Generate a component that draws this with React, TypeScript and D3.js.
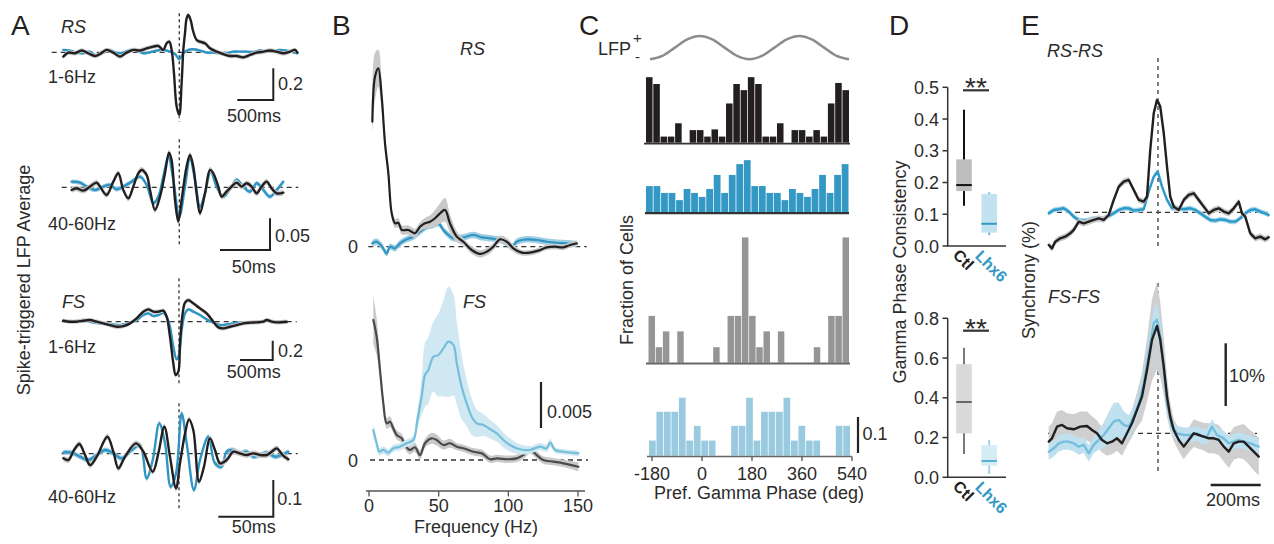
import React from 'react';
import * as d3 from 'd3';

type P = [number, number];

// ---------------- Panel A : spike-triggered LFP averages (time ms, LFP units)
const a1Ctl: P[] = [[-1611,-0.027],[-1542,-0.002],[-1449,-0.006],[-1357,0.011],[-1264,-0.006],[-1171,-0.023],[-1102,-0.011],[-1009,0.015],[-917,-0.002],[-824,-0.027],[-732,-0.002],[-639,0.015],[-546,0.011],[-454,0.025],[-361,0.036],[-292,0.040],[-222,0.015],[-176,0.057],[-139,0.067],[-106,0.015],[-74,-0.132],[-37,-0.342],[0,-0.395],[32,-0.195],[56,0.015],[79,0.120],[102,0.214],[125,0.235],[157,0.204],[194,0.130],[241,0.078],[287,0.067],[356,0.057],[426,0.025],[518,0.004],[611,-0.011],[704,-0.023],[796,-0.023],[889,-0.032],[982,-0.017],[1074,-0.002],[1167,0.004],[1259,0.011],[1352,0.004],[1445,-0.006],[1537,0.004],[1607,0.015],[1639,-0.002]];
const a1Lhx6: P[] = [[-1611,0.015],[-1519,0.011],[-1426,-0.002],[-1333,-0.006],[-1241,0.004],[-1148,-0.023],[-1056,-0.002],[-963,0.015],[-870,-0.006],[-778,-0.002],[-685,0.015],[-593,0.011],[-500,-0.006],[-407,0],[-315,0.011],[-222,0.015],[-130,0.004],[-60,-0.011],[0,-0.044],[56,-0.006],[125,0.015],[194,0.019],[287,0.011],[380,-0.002],[472,-0.002],[565,-0.006],[657,-0.006],[750,0.004],[843,0.004],[935,0.004],[1028,0.002],[1120,0.011],[1213,0.004],[1306,0.011],[1398,0.015],[1491,0.011],[1583,0],[1639,-0.006]];
const a2Ctl: P[] = [[-107.7,-0.0042],[-102.7,-0.0016],[-96,-0.0053],[-89.3,0.0011],[-82.7,0.0074],[-79.3,0.0011],[-72.7,-0.0121],[-66,0.0089],[-61,0.0221],[-56,-0.0042],[-51,-0.0174],[-46,0.0011],[-41,0.0221],[-37.7,0.0274],[-32.7,0.0195],[-29.3,-0.0042],[-24.3,-0.0358],[-19.3,-0.0147],[-14.3,0.0221],[-10.3,0.0547],[-7.7,0.0431],[-4.3,-0.02],[-1,-0.0542],[2.3,-0.02],[7.3,0.0326],[10.7,0.051],[14,0.0326],[17.3,-0.0095],[20.7,-0.041],[25.7,-0.0095],[30.7,0.0274],[34,0.0221],[39,0.0011],[42.3,-0.0147],[47.3,-0.0068],[52.3,0.0011],[57.3,0.0074],[62.3,0.0011],[67.3,0.0063],[72.3,0.0011],[77.3,-0.0095],[82.3,0.0011],[87.3,0.0089],[92.3,-0.0016],[97.3,-0.0095],[104,-0.0084]];
const a2Lhx6: P[] = [[-107.7,0.0089],[-99.3,0.0074],[-92.7,0.0011],[-84.3,-0.0042],[-76,0.0011],[-69.3,0.0037],[-62.7,-0.0032],[-56,0.0011],[-47.7,0.0089],[-39.3,0.0168],[-32.7,0.0037],[-26,-0.0252],[-21,-0.0147],[-16,0.0168],[-11,0.0484],[-6,0.0116],[0,-0.0463],[5.7,0.0011],[10.7,0.0458],[15.7,0.0116],[20.7,-0.0305],[25.7,-0.0095],[31.3,0.0247],[37.3,0.0011],[44,-0.0147],[50.7,-0.0032],[57.3,0.0116],[64,0.0011],[70.7,-0.0068],[77.3,0.0063],[84,-0.0042],[90.7,-0.0147],[97.3,-0.0042],[104,0.0089]];
const a3Ctl: P[] = [[-1770,0.010],[-1668,0],[-1566,0],[-1464,0.010],[-1362,0.017],[-1260,0],[-1158,-0.017],[-1056,-0.035],[-953,-0.052],[-851,-0.045],[-749,-0.017],[-647,0.035],[-546,0.104],[-469,0.128],[-393,0.104],[-316,0.104],[-240,0.114],[-189,0.052],[-138,-0.155],[-87,-0.431],[-51,-0.552],[-10,-0.518],[15,-0.224],[56,0.086],[92,0.197],[143,0.224],[219,0.190],[321,0.138],[423,0.086],[525,0],[602,-0.059],[678,-0.069],[780,-0.052],[882,-0.035],[984,-0.017],[1086,-0.010],[1188,-0.007],[1290,0],[1341,0.017],[1418,0],[1494,-0.007],[1647,0]];
const a3Lhx6: P[] = [[-1770,0.010],[-1617,0],[-1464,0.017],[-1362,0],[-1209,-0.017],[-1056,-0.024],[-903,-0.035],[-749,-0.010],[-647,0.017],[-546,0.069],[-469,0.086],[-393,0.059],[-316,0.069],[-240,0.093],[-189,0.052],[-138,-0.052],[-87,-0.259],[-36,-0.390],[5,-0.328],[41,-0.086],[92,0.086],[143,0.128],[219,0.104],[321,0.069],[423,0.024],[525,-0.010],[627,-0.035],[780,-0.024],[933,-0.010],[1086,-0.010],[1239,0],[1341,0.010],[1494,0],[1647,-0.007]];
const a4Ctl: P[] = [[-105.1,-0.0127],[-100.6,-0.0173],[-95.4,0.0100],[-90.6,0.0263],[-85.4,-0.0036],[-80.9,-0.0309],[-74.8,-0.0082],[-65.1,0.0463],[-59.7,0.0054],[-55.1,-0.0400],[-49.1,-0.0082],[-39.1,0.0281],[-32.4,0.0054],[-23.9,-0.0490],[-18.8,0.0009],[-13.3,0.0735],[-8.2,-0.0082],[-2.7,-0.0944],[0.9,-0.0263],[5.5,0.0554],[9.1,0.0935],[13,0.0645],[18.2,-0.0763],[22.7,-0.0354],[28.2,0.0418],[32.7,0.0100],[37.3,-0.0263],[43.3,-0.0173],[49.4,0.0054],[55.4,0.0009],[61.5,-0.0036],[67.6,0.0009],[73.6,-0.0036],[79.7,-0.0036],[84.2,0.0054],[88.8,0.0145],[94.2,-0.0036],[99.4,-0.0154]];
const a4Lhx6: P[] = [[-105.1,0.0036],[-97.6,0.0027],[-90,-0.0082],[-82.4,-0.0173],[-74.8,-0.0036],[-67.3,0.0100],[-59.7,0.0009],[-52.1,-0.0127],[-43,0.0100],[-35.5,0.0236],[-29.4,-0.0672],[-23.9,-0.0173],[-17.9,0.0826],[-12.7,0.0281],[-7.6,-0.0899],[-2.7,-0.0536],[2.4,0.1099],[7,0.0281],[13.6,-0.0990],[19.1,-0.0173],[26.7,0.0463],[32.7,-0.0263],[38.8,-0.0354],[43.3,0.0054],[49.4,0.0100],[55.4,0.0009],[61.5,0.0054],[67.6,-0.0082],[73.6,-0.0036],[79.7,0.0027],[87.3,-0.0082],[93.3,-0.0036],[99.4,0.0054]];

// ---------------- Panel B : spike-LFP coherence spectra (Hz, units of 1e-3)
const bRsCtl: P[] = [[2.4,13.59],[4.3,18.48],[6.7,19.39],[9.1,16.31],[11.5,11.24],[13.9,7.98],[16.3,3.63],[18.7,2.54],[21,2.61],[23.5,1.82],[28.2,1.82],[33,1.46],[36.6,2.17],[40.2,2.54],[43.8,2.72],[47.4,3.09],[51,3.63],[54.6,3.99],[58.1,2.54],[63,1.09],[67.7,0.54],[73.7,-0.36],[79.7,-0.79],[84.5,-0.54],[89.2,0],[94,0.80],[98.9,0.54],[103.6,-0.17],[109.6,-0.65],[115.6,-0.65],[121.5,-0.43],[127.6,-0.07],[133.5,0],[139.5,-0.07],[144.3,0.18],[149.1,0.37]];
const bRsCtlSem = [1.6,2.6,2.0,1.5,1.0,0.6,0.5,0.5,0.5,0.5,0.5,0.5,0.5,0.6,0.7,0.9,1.1,1.3,1.0,0.6,0.4,0.4,0.4,0.4,0.4,0.4,0.4,0.4,0.3,0.3,0.3,0.3,0.3,0.3,0.3,0.3];
const bRsLhx6: P[] = [[2.4,0.37],[5.5,0.54],[9.1,0.08],[12.7,-0.72],[15.1,0],[18.7,-0.17],[22.2,0.37],[27,0.80],[31.8,1.09],[36.6,1.63],[41.4,2.17],[46.2,2.36],[49.8,2.54],[53.4,1.82],[57,1.27],[60.6,0.91],[67.7,1.02],[74.9,1.27],[80.9,1.02],[86.9,0.91],[94,0.73],[98.9,0.37],[102.4,-0.07],[106,0.54],[113.2,0.80],[120.4,0.73],[127.6,0.54],[134.8,0.43],[141.9,0.37],[149.1,0.29]];
const bFsCtl: P[] = [[3.1,15.22],[5.5,13.40],[7.9,9.78],[10.3,6.16],[12.7,3.99],[15.1,4.16],[17.4,3.45],[19.9,2.72],[23.5,2.36],[25.8,1.63],[29.4,1.09],[33,1.38],[36.6,0.54],[40.2,1.82],[45,2.36],[48.6,2.17],[53.3,1.63],[58.1,1.82],[63,1.45],[67.7,1.27],[74.9,0.90],[80.9,0.73],[86.9,0.08],[91.7,0.18],[98.9,0.08],[106,0.18],[110.8,0.54],[115.6,1.09],[120.4,0.54],[125.1,0],[132.3,-0.18],[139.5,-0.36],[150.3,-0.73]];
const bFsCtlSem = [2.6,2.0,1.0,0.6,0.6,0.6,0.5,0.5,0.5,0.5,0.5,0.5,0.5,0.5,0.6,0.6,0.5,0.5,0.4,0.4,0.4,0.4,0.4,0.4,0.4,0.4,0.4,0.4,0.4,0.4,0.4,0.4,0.5];
const bFsLhx6: P[] = [[3.1,3.26],[5.5,1.82],[7.4,0.90],[10.3,1.09],[13.9,0.79],[17.4,1.27],[22.2,1.45],[27,1.82],[31.8,2.17],[34.7,4.35],[37.8,6.88],[40.2,9.24],[42.6,9.78],[46.2,11.23],[49.8,11.41],[53.4,12.14],[57,12.86],[60.6,12.50],[63,10.51],[66.5,7.97],[70.1,6.16],[73.7,4.71],[77.3,3.99],[82.1,3.80],[86.9,3.34],[91.7,2.90],[96.4,2.17],[101.2,1.63],[106,1.27],[110.8,1.09],[115.6,1.09],[122.8,1.45],[127.6,1.27],[130,1.88],[133.6,1.09],[139.5,0.90],[150.3,0.73]];
const bFsLhx6Sem = [0.8,0.5,0.4,0.4,0.4,0.4,0.4,0.4,0.5,1.0,2.0,3.5,3.6,3.8,4.5,5.2,6.0,5.5,4.5,3.5,2.5,2.0,1.5,1.2,1.0,0.9,0.8,0.7,0.6,0.5,0.4,0.4,0.4,0.4,0.3,0.3,0.3];
const bFreqTicks = [0, 50, 100, 150];

// ---------------- Panel C : preferred gamma phase histograms (fraction of cells)
const cLfpPhase = [-180,-135,-90,-45,0,45,90,135,180,225,270,315,360,405,450,495,540];
const cLfpValue = [-1,-0.71,0,0.71,1,0.71,0,-0.71,-1,-0.71,0,0.71,1,0.71,0,-0.71,-1];
const cRsCtl = [0.182,0.163,0.017,0.017,0.054,0,0.035,0.035,0.017,0.037,0.017,0.109,0.163,0.146,0.182,0.163,0.017,0.017,0.054,0,0.035,0.035,0.017,0.035,0.017,0.109,0.166,0.146];
const cRsLhx6 = [0.072,0.072,0.053,0.053,0.033,0.064,0.053,0.042,0.064,0.103,0.053,0.103,0.133,0.144,0.072,0.072,0.053,0.053,0.033,0.064,0.053,0.042,0.064,0.103,0.053,0.103,0.133];
const cFsCtl = [0.130,0.043,0.087,0,0.087,0,0,0,0,0.043,0,0.130,0.130,0.348,0.130,0.043,0.087,0,0.087,0,0,0,0,0.043,0,0.130,0.130,0.348];
const cFsLhx6 = [0.042,0.122,0.122,0.122,0.161,0.042,0.083,0.042,0.042,0,0,0.083,0.083,0.161,0.042,0.122,0.122,0.122,0.161,0.042,0.083,0.042,0.042,0,0,0.083,0.083];
const cPhaseTicks = [-180, 0, 180, 360, 540];

// ---------------- Panel D : gamma phase consistency [whisker lo, q1, median, q3, whisker hi]
const dRsCtl = [0.127, 0.173, 0.192, 0.273, 0.429];
const dRsLhx6 = [0.034, 0.042, 0.070, 0.164, 0.169];
const dFsCtl = [0.117, 0.221, 0.379, 0.569, 0.652];
const dFsLhx6 = [0.017, 0.058, 0.082, 0.162, 0.188];
const dGroups = ['Ctl', 'Lhx6'];
const dRsTicks = [0, 0.1, 0.2, 0.3, 0.4, 0.5];
const dFsTicks = [0, 0.2, 0.4, 0.6, 0.8];

// ---------------- Panel E : synchrony (time ms, % relative to baseline)
const eRsCtl: P[] = [[-437,-5.21],[-424,-5.75],[-411,-4.68],[-391,-4.15],[-371,-3.88],[-351,-3.35],[-337,-2.81],[-317,-1.49],[-297,-1.76],[-277,-1.49],[-257,-1.22],[-237,-0.96],[-217,-1.22],[-197,-0.43],[-177,1.97],[-157,4.10],[-137,4.89],[-117,5.16],[-97,3.56],[-77,1.97],[-57,1.70],[-44,2.50],[-31,9.95],[-17,15.80],[-4,17.93],[9,16.87],[23,12.61],[36,7.29],[49,2.50],[63,0.90],[83,0.37],[103,1.97],[123,2.77],[143,3.03],[163,1.97],[183,0.90],[203,-0.16],[223,0.37],[243,0.64],[263,0.11],[283,-0.16],[303,0.64],[323,1.70],[336,-0.16],[349,-0.69],[369,-3.35],[389,-4.15],[409,-3.88],[429,-4.31],[443,-3.99]];
const eRsLhx6: P[] = [[-437,-0.16],[-417,0.37],[-397,0.48],[-377,0.64],[-357,0.11],[-337,-0.69],[-317,-1.22],[-297,-1.33],[-277,-1.22],[-257,-0.96],[-237,-1.22],[-217,-0.96],[-197,-0.59],[-177,-0.16],[-157,0.37],[-137,0.64],[-117,0.64],[-97,0.27],[-77,0.37],[-57,0.48],[-37,3.30],[-17,5.69],[-1,6.49],[16,4.10],[36,1.97],[56,0.64],[76,0.64],[103,0.48],[129,0.64],[149,0.37],[169,-0.16],[189,-0.69],[209,-1.22],[229,-1.33],[249,-1.12],[269,-1.22],[289,-1.49],[309,-1.49],[329,-0.96],[349,-0.16],[369,0.37],[389,0.48],[409,0.11],[429,-0.16],[443,-0.43]];
const eFsCtl: P[] = [[-437,-1.33],[-424,-0.80],[-404,1.06],[-384,1.33],[-364,0.80],[-337,0.64],[-311,1.06],[-284,1.17],[-264,0.53],[-244,0],[-224,-1.06],[-204,-1.60],[-184,-1.33],[-164,-0.80],[-144,-1.60],[-124,0],[-104,1.60],[-84,3.72],[-64,5.85],[-44,10.11],[-24,14.90],[-4,17.13],[9,14.90],[23,10.64],[36,5.85],[49,2.66],[63,0.53],[83,-1.06],[103,-2.13],[123,-1.06],[143,0],[163,-0.27],[183,-0.53],[203,-0.80],[223,-0.80],[243,-1.06],[263,-2.13],[283,-2.93],[303,-1.60],[323,-1.33],[343,-1.33],[363,-2.13],[383,-2.93],[403,-3.72]];
const eFsCtlSem = [2.4,2.4,2.4,2.4,2.4,2.4,2.4,2.3,2.2,2.1,2.0,2.0,2.0,2.0,2.0,2.0,2.2,2.8,3.8,5.0,6.5,7.0,6.0,4.5,3.2,2.2,1.8,1.8,2.0,2.0,2.2,2.2,2.2,2.4,2.4,2.4,2.4,2.6,2.6,2.6,2.8,2.8,3.0,3.0];
const eFsLhx6: P[] = [[-437,-2.93],[-417,-2.39],[-397,-1.60],[-377,-1.33],[-357,-1.33],[-337,-1.60],[-317,-2.13],[-297,-1.86],[-277,-3.19],[-257,-1.86],[-237,-1.06],[-217,-0.27],[-197,0.80],[-177,1.86],[-157,2.13],[-137,1.33],[-117,1.06],[-97,2.66],[-77,4.79],[-57,7.98],[-37,12.77],[-17,17.56],[-4,18.09],[9,15.43],[23,10.11],[36,4.79],[56,1.06],[76,0],[103,-0.27],[129,-0.27],[156,0],[176,-0.53],[196,-0.53],[216,1.06],[236,-0.27],[263,-0.80],[283,-1.60],[303,-1.33],[323,-1.06],[343,-1.33],[369,-1.60],[403,-2.13]];
const eFsLhx6Sem = [1.3,1.3,1.3,1.3,1.3,1.3,1.3,1.3,1.3,1.3,1.6,2.0,2.6,3.0,2.8,2.2,1.8,1.6,1.6,1.8,2.2,2.6,2.6,2.4,2.0,1.6,1.2,1.2,1.2,1.2,1.2,1.2,1.2,1.2,1.2,1.2,1.2,1.2,1.2,1.2,1.2,1.2];

// ---------------- styling
const FONT = '"Liberation Sans", Arial, Helvetica, sans-serif';
const INK = '#231f20';
const TXT = '#2b2b2b';
const BLUE = '#2f95c2';
const LBLUE = '#76bedb';
const GRAYBAND = '#c9c9c9';

type Scale = d3.ScaleLinear<number, number>;

function Trace({ data, sem, x, y, color, band, w = 2.4, curve = d3.curveCatmullRom, part = 'both' }: { data: P[]; sem: number | number[]; x: Scale; y: Scale; color: string; band: string; w?: number; curve?: any; part?: 'both' | 'band' | 'line' }) {
  const s = (i: number) => (Array.isArray(sem) ? sem[i] : sem);
  const area = d3.area<P>().x(d => x(d[0])).y0((d, i) => y(d[1] - s(i))).y1((d, i) => y(d[1] + s(i))).curve(curve);
  const line = d3.line<P>().x(d => x(d[0])).y(d => y(d[1])).curve(curve);
  return (
    <g>
      {part !== 'line' && <path d={area(data) || ''} fill={band} stroke="none" />}
      {part !== 'band' && <path d={line(data) || ''} fill="none" stroke={color} strokeWidth={w} strokeLinejoin="round" strokeLinecap="round" />}
    </g>
  );
}

function T({ x, y, children, size = 18, anchor = 'start', italic = false, bold = false, fill = TXT, transform }: any) {
  return (
    <text x={x} y={y} fontSize={size} textAnchor={anchor} fontStyle={italic ? 'italic' : 'normal'} fontWeight={bold ? 'bold' : 'normal'} fill={fill} fontFamily={FONT} transform={transform}>
      {children}
    </text>
  );
}

function HDash({ x1, x2, y, dash = '5 4', color = '#333', w = 1.3 }: any) {
  return <line x1={x1} x2={x2} y1={y} y2={y} stroke={color} strokeWidth={w} strokeDasharray={dash} />;
}
function VDash({ x, y1, y2, dash = '3 3', color = '#333', w = 1.3 }: any) {
  return <line x1={x} x2={x} y1={y1} y2={y2} stroke={color} strokeWidth={w} strokeDasharray={dash} />;
}

function ScaleBarL({ cx, cy, len, hlen, w = 2 }: any) {
  return (
    <g stroke="#222" strokeWidth={w} fill="none">
      <path d={`M${cx - hlen},${cy}H${cx}V${cy - len}`} />
    </g>
  );
}

function HistRow({ values, x0, x1, base, color, yh }: { values: number[]; x0: number; x1: number; base: number; color: string; yh: Scale }) {
  const xb = d3.scaleBand<number>().domain(d3.range(values.length)).range([x0, x1]).paddingInner(0.1);
  return (
    <g>
      {values.map((v, i) => (
        <rect key={i} x={xb(i)} y={base - yh(v)} width={xb.bandwidth()} height={yh(v)} fill={color} />
      ))}
    </g>
  );
}

function Box({ stats, cx, y, w, fill, med, whisk }: any) {
  return (
    <g>
      <line x1={cx} x2={cx} y1={y(stats[0])} y2={y(stats[4])} stroke={whisk} strokeWidth={2} />
      <rect x={cx - w / 2} y={y(stats[3])} width={w} height={y(stats[1]) - y(stats[3])} fill={fill} />
      <line x1={cx - w / 2} x2={cx + w / 2} y1={y(stats[2])} y2={y(stats[2])} stroke={med} strokeWidth={2} />
    </g>
  );
}

export default function App() {
  // ---- A scales
  const xA1 = d3.scaleLinear().domain([0, 500]).range([179.3, 215.3]);
  const yA1 = d3.scaleLinear().domain([0, 0.2]).range([52.3, 20.6]);
  const xA2 = d3.scaleLinear().domain([0, 50]).range([179.3, 229.3]);
  const yA2 = d3.scaleLinear().domain([0, 0.05]).range([187.3, 155.6]);
  const xA3 = d3.scaleLinear().domain([0, 500]).range([179, 211.7]);
  const yA3 = d3.scaleLinear().domain([0, 0.2]).range([321.7, 302.4]);
  const xA4 = d3.scaleLinear().domain([0, 50]).range([179, 234]);
  const yA4 = d3.scaleLinear().domain([0, 0.1]).range([453.7, 417]);

  // ---- B scales
  const xB = d3.scaleLinear().domain([0, 150]).range([369, 578]);
  const yBt = d3.scaleLinear().domain([0, 5]).range([246.7, 200.7]);
  const yBb = d3.scaleLinear().domain([0, 5]).range([460, 414]);

  // ---- C scales
  const xCs = d3.scaleLinear().domain([-180, 540]).range([650, 849]);
  const yCs = d3.scaleLinear().domain([-1, 1]).range([59.3, 36]);
  const xCa = d3.scaleLinear().domain([-180, 540]).range([652, 852]);
  const yH = d3.scaleLinear().domain([0, 0.1]).range([0, 36]);
  const lfpPts: P[] = cLfpPhase.map((p, i) => [p, cLfpValue[i]]);
  const lfpLine = d3.line<P>().x(d => xCs(d[0])).y(d => yCs(d[1])).curve(d3.curveCatmullRom);

  // ---- D scales
  const xD = d3.scaleBand<string>().domain(dGroups).range([951.4, 1001.8]);
  const yDt = d3.scaleLinear().domain([0, 0.5]).range([246, 87.3]);
  const yDb = d3.scaleLinear().domain([0, 0.8]).range([477.3, 318.3]);
  const cx = (g: string) => (xD(g) as number) + xD.bandwidth() / 2;
  const boxW = 15.5;

  // ---- E scales
  const xE = d3.scaleLinear().domain([-440, 440]).range([1048, 1268]);
  const yEt = d3.scaleLinear().domain([0, 10]).range([212.3, 149.6]);
  const yEb = d3.scaleLinear().domain([0, 10]).range([433.3, 370.6]);

  const aPanels = [
    { ctl: a1Ctl, lhx: a1Lhx6, x: xA1, y: yA1, semC: 0.014, semL: 0.008, hx: [51.7, 298.3], vy: [13.3, 121.7], bar: [273.3, 100], bx: 500, by: 0.2 },
    { ctl: a2Ctl, lhx: a2Lhx6, x: xA2, y: yA2, semC: 0.0045, semL: 0.0035, hx: [61.7, 298.3], vy: [139.3, 246.7], bar: [270, 250], bx: 50, by: 0.05 },
    { ctl: a3Ctl, lhx: a3Lhx6, x: xA3, y: yA3, semC: 0.022, semL: 0.014, hx: [61.7, 296.7], vy: [278.3, 383.3], bar: [272.7, 360], bx: 500, by: 0.2 },
    { ctl: a4Ctl, lhx: a4Lhx6, x: xA4, y: yA4, semC: 0.008, semL: 0.007, hx: [61.7, 297.7], vy: [403.3, 510], bar: [273.3, 516.7], bx: 50, by: 0.1 },
  ];

  return (
    <svg width={1274} height={544} viewBox="0 0 1274 544" style={{ position: 'absolute', left: 0, top: 0, background: '#fff' }} fontFamily={FONT}>
      <rect x={0} y={0} width={1274} height={544} fill="#fff" />

      {/* ===== Panel letters ===== */}
      <T x={11} y={35} size={28} fill={INK}>A</T>
      <T x={332} y={35} size={28} fill={INK}>B</T>
      <T x={579} y={35} size={28} fill={INK}>C</T>
      <T x={889} y={35} size={28} fill={INK}>D</T>
      <T x={1021} y={35} size={28} fill={INK}>E</T>

      {/* ===== Panel A ===== */}
      <T x={0} y={0} anchor="middle" transform="translate(30,280) rotate(-90)">Spike-triggered LFP Average</T>
      {aPanels.map((p, i) => (
        <g key={i}>
          <HDash x1={p.hx[0]} x2={p.hx[1]} y={p.y(0)} />
          <VDash x={p.x(0)} y1={p.vy[0]} y2={p.vy[1]} />
          <Trace data={p.lhx} sem={p.semL} x={p.x} y={p.y} color={BLUE} band="#9fcde3" />
          <Trace data={p.ctl} sem={p.semC} x={p.x} y={p.y} color={INK} band={GRAYBAND} />
          <ScaleBarL cx={p.bar[0]} cy={p.bar[1]} len={p.y(0) - p.y(p.by)} hlen={p.x(p.bx) - p.x(0)} />
        </g>
      ))}
      <T x={61} y={33} italic>RS</T>
      <T x={48} y={83}>1-6Hz</T>
      <T x={278} y={90}>0.2</T>
      <T x={227} y={121.7}>500ms</T>
      <T x={48} y={230}>40-60Hz</T>
      <T x={275} y={241.7}>0.05</T>
      <T x={231.7} y={273}>50ms</T>
      <T x={62} y={308} italic>FS</T>
      <T x={48} y={353}>1-6Hz</T>
      <T x={278} y={356.7}>0.2</T>
      <T x={226.7} y={378.3}>500ms</T>
      <T x={48} y={503}>40-60Hz</T>
      <T x={277.3} y={505}>0.1</T>
      <T x={231.7} y={533.3}>50ms</T>

      {/* ===== Panel B ===== */}
      <HDash x1={368.3} x2={586.7} y={yBt(0)} />
      <HDash x1={370} x2={588} y={yBb(0)} />
      <Trace data={bRsLhx6} sem={0.35} x={xB} y={yBt} color={BLUE} band="#9fcde3" w={2.2} />
      <Trace data={bRsCtl} sem={bRsCtlSem} x={xB} y={yBt} color={INK} band={GRAYBAND} w={2.2} />
      <Trace data={bFsCtl} sem={bFsCtlSem} x={xB} y={yBb} color="#4a4a4a" band={GRAYBAND} w={2.2} />
      <Trace data={bFsLhx6} sem={bFsLhx6Sem} x={xB} y={yBb} color={LBLUE} band="#cfe8f2" w={2.2} />
      <T x={460} y={55} italic>RS</T>
      <T x={463} y={308} italic>FS</T>
      <T x={348} y={253.3}>0</T>
      <T x={348} y={466.7}>0</T>
      <line x1={541} x2={541} y1={428} y2={428 - (yBb(0) - yBb(5))} stroke="#222" strokeWidth={2.2} />
      <T x={547} y={418}>0.005</T>
      <line x1={366} x2={585} y1={491} y2={491} stroke="#555" strokeWidth={1.3} />
      {bFreqTicks.map(t => (
        <g key={t}>
          <line x1={xB(t)} x2={xB(t)} y1={491} y2={496.5} stroke="#555" strokeWidth={1.3} />
          <T x={xB(t)} y={512} anchor="middle">{t}</T>
        </g>
      ))}
      <T x={476} y={533} anchor="middle">Frequency (Hz)</T>

      {/* ===== Panel C ===== */}
      <T x={598} y={55}>LFP</T>
      <T x={633} y={43} size={15}>+</T>
      <T x={635} y={62} size={15}>-</T>
      <path d={lfpLine(lfpPts) || ''} fill="none" stroke="#8c8c8c" strokeWidth={2.5} />
      <HistRow values={cRsCtl} x0={646} x1={849} base={142.7} color={INK} yh={yH} />
      <line x1={644} x2={850} y1={143.6} y2={143.6} stroke="#333" strokeWidth={1.8} />
      <HistRow values={cRsLhx6} x0={646} x1={848.5} base={212} color="#3399c4" yh={yH} />
      <line x1={645} x2={849} y1={213.2} y2={213.2} stroke="#333" strokeWidth={2.2} />
      <HistRow values={cFsCtl} x0={648.5} x1={849} base={362.7} color="#959595" yh={yH} />
      <line x1={646} x2={850} y1={363.5} y2={363.5} stroke="#666" strokeWidth={1.8} />
      <HistRow values={cFsLhx6} x0={649} x1={850} base={455.7} color="#99cadf" yh={yH} />
      <line x1={647} x2={852} y1={456.5} y2={456.5} stroke="#666" strokeWidth={1.5} />
      {cPhaseTicks.map(t => (
        <g key={t}>
          <line x1={xCa(t)} x2={xCa(t)} y1={456.5} y2={461} stroke="#666" strokeWidth={1.5} />
          <T x={xCa(t)} y={480} anchor="middle">{t}</T>
        </g>
      ))}
      <T x={759} y={499} anchor="middle">Pref. Gamma Phase (deg)</T>
      <T x={0} y={0} anchor="middle" transform="translate(633,280) rotate(-90)">Fraction of Cells</T>
      <line x1={858} x2={858} y1={453} y2={453 - yH(0.1)} stroke="#222" strokeWidth={2.2} />
      <T x={862.5} y={440}>0.1</T>

      {/* ===== Panel D ===== */}
      <T x={0} y={0} anchor="middle" transform="translate(906,272) rotate(-90)">Gamma Phase Consistency</T>
      {[{ y: yDt, ticks: dRsTicks, ctl: dRsCtl, lhx: dRsLhx6, sig: 90.3, top: true }, { y: yDb, ticks: dFsTicks, ctl: dFsCtl, lhx: dFsLhx6, sig: 330.7, top: false }].map((p, k) => {
        const y0 = p.y(0);
        const yTop = p.y(p.ticks[p.ticks.length - 1]);
        return (
          <g key={k}>
            <line x1={947.7} x2={947.7} y1={yTop} y2={y0} stroke="#333" strokeWidth={1.5} />
            <line x1={947} x2={1006} y1={y0} y2={y0} stroke="#333" strokeWidth={1.5} />
            {p.ticks.map(t => (
              <g key={t}>
                <line x1={942.5} x2={947.7} y1={p.y(t)} y2={p.y(t)} stroke="#333" strokeWidth={1.5} />
                <T x={939} y={p.y(t) + 6.5} anchor="end">{t.toFixed(1)}</T>
              </g>
            ))}
            <Box stats={p.ctl} cx={cx('Ctl')} y={p.y} w={boxW} fill={p.top ? '#bdbdbd' : '#d9d9d9'} med={p.top ? '#111' : '#666'} whisk={p.top ? '#111' : '#7a7a7a'} />
            <Box stats={p.lhx} cx={cx('Lhx6')} y={p.y} w={boxW} fill={p.top ? '#c3e2ef' : '#d6ecf5'} med={p.top ? '#3399c4' : '#5ab1d5'} whisk={p.top ? '#6db7d8' : '#9fd0e6'} />
            <line x1={963} x2={989} y1={p.sig} y2={p.sig} stroke="#333" strokeWidth={2.2} />
            <T x={976} y={p.sig + 7} anchor="middle" size={28}>**</T>
            <T x={0} y={0} bold size={16} fill={INK} transform={`translate(${cx('Ctl') - 12},${y0 + 10}) rotate(45)`}>Ctl</T>
            <T x={0} y={0} bold size={16} fill="#3399c4" transform={`translate(${cx('Lhx6') - 15},${y0 + 11}) rotate(45)`}>Lhx6</T>
          </g>
        );
      })}

      {/* ===== Panel E ===== */}
      <T x={0} y={0} anchor="middle" transform="translate(1035,280) rotate(-90)">Synchrony (%)</T>
      <HDash x1={1048} x2={1268} y={yEt(0)} />
      <VDash x={xE(0)} y1={58} y2={248} dash="4 4" color="#555" w={1.5} />
      <Trace data={eRsLhx6} sem={0.4} x={xE} y={yEt} color="#2b9acb" band="#a9d5e9" w={2.4} curve={d3.curveLinear} />
      <Trace data={eRsCtl} sem={0.5} x={xE} y={yEt} color={INK} band={GRAYBAND} w={2.4} curve={d3.curveLinear} />
      <T x={1047} y={57} italic>RS-RS</T>

      <HDash x1={1048} x2={1257} y={yEb(0)} />
      <VDash x={xE(0)} y1={283} y2={472} dash="4 4" color="#555" w={1.5} />
      <Trace data={eFsCtl} sem={eFsCtlSem} x={xE} y={yEb} color={INK} band="#cfcfcf" curve={d3.curveLinear} part="band" />
      <Trace data={eFsLhx6} sem={eFsLhx6Sem} x={xE} y={yEb} color={LBLUE} band="#bfe0ee" curve={d3.curveLinear} part="band" />
      <Trace data={eFsLhx6} sem={eFsLhx6Sem} x={xE} y={yEb} color={LBLUE} band="#bfe0ee" w={2.4} curve={d3.curveLinear} part="line" />
      <Trace data={eFsCtl} sem={eFsCtlSem} x={xE} y={yEb} color={INK} band="#cfcfcf" w={2.4} curve={d3.curveLinear} part="line" />
      <T x={1048} y={303} italic>FS-FS</T>
      <line x1={1225.7} x2={1225.7} y1={406} y2={406 - (yEb(0) - yEb(10))} stroke="#222" strokeWidth={2.4} />
      <T x={1229} y={382}>10%</T>
      <line x1={1260.7 - (xE(200) - xE(0))} x2={1260.7} y1={485} y2={485} stroke="#222" strokeWidth={2.4} />
      <T x={1206} y={506}>200ms</T>
    </svg>
  );
}
